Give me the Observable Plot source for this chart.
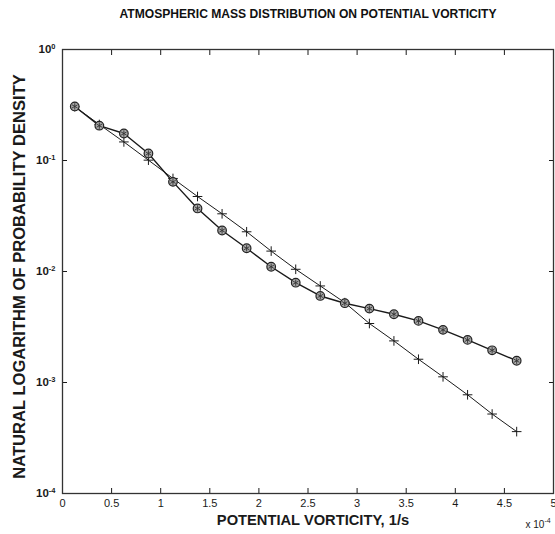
<!DOCTYPE html>
<html>
<head>
<meta charset="utf-8">
<script src="https://cdn.jsdelivr.net/npm/d3@7"></script>
<script src="https://cdn.jsdelivr.net/npm/@observablehq/plot@0.6"></script>
<style>
  html, body { margin: 0; padding: 0; background: white; overflow: hidden; }
  #title { width: 555px; height: 28px; line-height: 28px; text-align: center; font-family: "Liberation Sans", Arial, sans-serif; font-weight: bold; font-size: 12.1px; color: #111; padding-left: 61px; box-sizing: border-box; white-space: nowrap; }
  #chart svg { display: block; }
</style>
</head>
<body>
<div id="title"></div>
<div id="chart"></div>
<script>
const titleText = "ATMOSPHERIC MASS DISTRIBUTION ON POTENTIAL VORTICITY";
const xLabel = "POTENTIAL VORTICITY, 1/s";
const yLabel = "NATURAL LOGARITHM OF PROBABILITY DENSITY";
const xScaleNote = ["x 10", "-4"];

// potential vorticity (units of 1e-4 1/s)
const pv = [0.125, 0.375, 0.625, 0.875, 1.125, 1.375, 1.625, 1.875, 2.125, 2.375,
            2.625, 2.875, 3.125, 3.375, 3.625, 3.875, 4.125, 4.375, 4.625];
// series with circle markers
const circleSeries = [0.307, 0.206, 0.175, 0.1156, 0.0642, 0.037, 0.0234, 0.0162, 0.01104, 0.00793,
                      0.00602, 0.00518, 0.00463, 0.00412, 0.00359, 0.00298, 0.00242, 0.00195, 0.00157];
// series with plus markers
const plusSeries = [0.305, 0.211, 0.147, 0.1007, 0.0689, 0.0474, 0.0331, 0.0228, 0.01527, 0.01047,
                    0.00741, 0.00524, 0.0034, 0.00237, 0.00162, 0.001125, 0.000775, 0.00052, 0.000361];

const xTicks = [0, 0.5, 1, 1.5, 2, 2.5, 3, 3.5, 4, 4.5, 5];
const yTicks = [1, 0.1, 0.01, 0.001, 0.0001];
const yTickExps = ["0", "-1", "-2", "-3", "-4"];

document.getElementById("title").textContent = titleText;

const circles = pv.map((x, i) => ({x, y: circleSeries[i]}));
const pluses = pv.map((x, i) => ({x, y: plusSeries[i]}));
const expOf = new Map(yTicks.map((t, i) => [t, yTickExps[i]]));

const ink = "#1a1a1a";
const chart = Plot.plot({
  width: 555,
  height: 506,
  marginLeft: 62,
  marginRight: 2,
  marginTop: 21,
  marginBottom: 41,
  style: {fontFamily: "Liberation Sans, Arial, sans-serif", fontSize: "11px", color: ink, background: "white", overflow: "visible"},
  x: {domain: [0, 5]},
  y: {type: "log", domain: [1e-4, 1]},
  marks: [
    // inward ticks on all four sides
    Plot.axisX({anchor: "bottom", ticks: xTicks, tickSize: -5, tickFormat: () => "", label: null, stroke: ink}),
    Plot.axisX({anchor: "top", ticks: xTicks, tickSize: -5, tickFormat: () => "", label: null, stroke: ink}),
    Plot.axisY({anchor: "left", ticks: yTicks, tickSize: -5, tickFormat: () => "", label: null, stroke: ink}),
    Plot.axisY({anchor: "right", ticks: yTicks, tickSize: -5, tickFormat: () => "", label: null, stroke: ink}),
    // tick labels
    Plot.axisX({anchor: "bottom", ticks: xTicks, tickSize: 0, tickPadding: 6, label: null, fontSize: 11,
                tickFormat: d => String(d)}),
    Plot.axisY({anchor: "left", ticks: yTicks, tickSize: 0, tickPadding: 7, label: null, fontWeight: "bold", fontSize: 11.5,
                tickFormat: d => "10^" + expOf.get(d)}),
    Plot.frame({stroke: "#333", strokeWidth: 1.3}),
    // plus series
    Plot.line(pluses, {x: "x", y: "y", stroke: ink, strokeWidth: 1}),
    Plot.dot(pluses, {x: "x", y: "y", symbol: "plus", r: 3.2, stroke: ink, strokeWidth: 1}),
    // circle series
    Plot.line(circles, {x: "x", y: "y", stroke: ink, strokeWidth: 1.4}),
    Plot.dot(circles, {x: "x", y: "y", r: 4.3, fill: "#a8a8a8", stroke: "#222", strokeWidth: 1.2}),
    Plot.dot(circles, {x: "x", y: "y", symbol: "asterisk", r: 3, stroke: "#333", strokeWidth: 0.9}),
    // axis titles
    Plot.text([xLabel], {frameAnchor: "bottom", dx: 5, dy: 31, fontWeight: "bold", fontSize: 14.7, fill: ink}),
    Plot.text([yLabel], {frameAnchor: "left", textAnchor: "middle", rotate: -90, dx: -43, dy: 5, fontWeight: "bold", fontSize: 16.6, fill: ink}),
    Plot.text([xScaleNote[0]], {frameAnchor: "bottom-right", textAnchor: "start", dx: -28, dy: 34, fontSize: 10, fill: ink, className: "scale-note"})
  ]
});

// superscript exponents in y tick labels and scale note
chart.querySelectorAll('g[aria-label="y-axis tick label"] text').forEach(t => {
  const [base, exp] = t.textContent.split("^");
  t.textContent = base;
  const ts = document.createElementNS("http://www.w3.org/2000/svg", "tspan");
  ts.setAttribute("dy", "-0.6em");
  ts.setAttribute("font-size", "7.5");
  ts.textContent = exp;
  t.appendChild(ts);
});
chart.querySelectorAll('.scale-note text').forEach(t => {
  const ts = document.createElementNS("http://www.w3.org/2000/svg", "tspan");
  ts.setAttribute("dy", "-0.6em");
  ts.setAttribute("font-size", "7");
  ts.textContent = xScaleNote[1];
  t.appendChild(ts);
});
document.getElementById("chart").appendChild(chart);
</script>
</body>
</html>
